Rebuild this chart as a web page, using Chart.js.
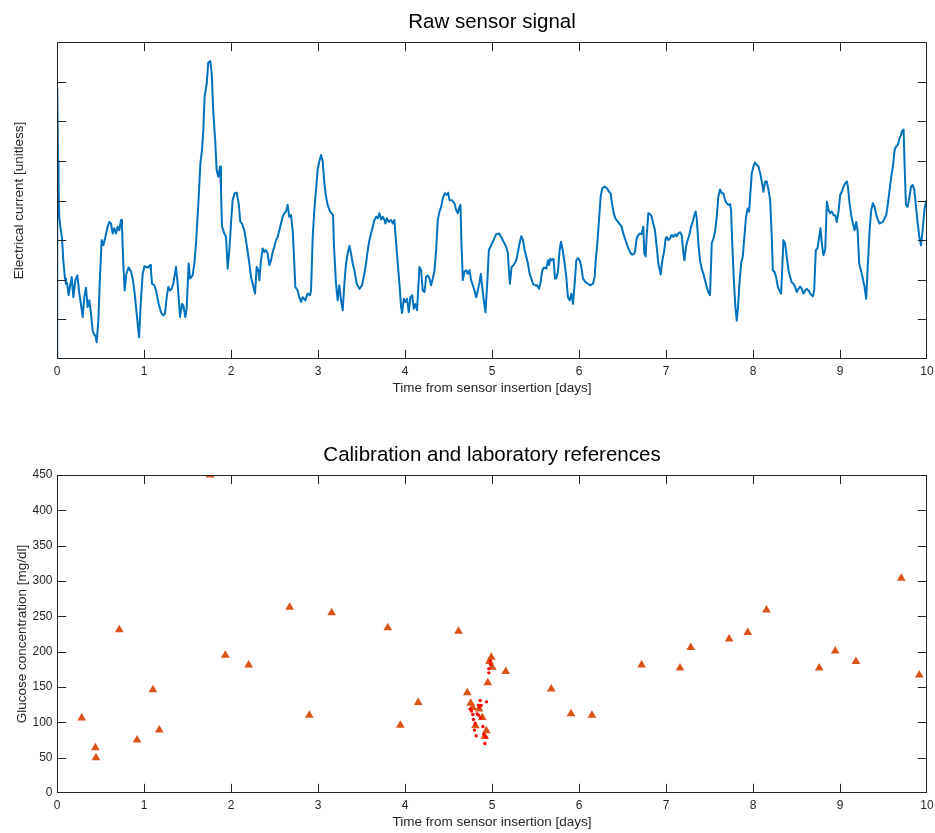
<!DOCTYPE html>
<html>
<head>
<meta charset="utf-8">
<title>Sensor signal and glucose references</title>
<script src="https://cdn.jsdelivr.net/npm/chart.js@4.4.1/dist/chart.umd.min.js"></script>
<style>
  html, body { margin: 0; padding: 0; background: #ffffff; }
  #wrap { position: relative; width: 935px; height: 833px; overflow: hidden; background: #ffffff; }
  canvas { position: absolute; left: 0; }
</style>
</head>
<body>
<div id="wrap">
  <canvas id="signalChart" width="935" height="416" style="top:0px"></canvas>
  <canvas id="refChart" width="935" height="417" style="top:416px"></canvas>
</div>
<script>
// ---- Raw sensor current (unitless) over days since insertion ----
const signalDays = [
  0, 0.003, 0.012, 0.018, 0.026, 0.038, 0.058, 0.072, 0.092, 0.103, 0.115, 0.134, 0.149, 0.169, 0.188, 0.211, 0.234, 0.257, 0.280, 0.295,
  0.314, 0.333, 0.352, 0.372, 0.391, 0.410, 0.425, 0.441, 0.456, 0.475, 0.494, 0.513, 0.533, 0.556, 0.582, 0.602, 0.621, 0.640, 0.659, 0.678,
  0.697, 0.716, 0.736, 0.747, 0.762, 0.778, 0.797, 0.824, 0.851, 0.870, 0.893, 0.916, 0.943, 0.962, 0.985, 1.004, 1.042, 1.069, 1.080, 1.092,
  1.119, 1.138, 1.169, 1.195, 1.222, 1.241, 1.261, 1.280, 1.299, 1.318, 1.337, 1.368, 1.387, 1.414, 1.437, 1.452, 1.475, 1.490, 1.513, 1.529,
  1.559, 1.579, 1.598, 1.625, 1.648, 1.667, 1.682, 1.697, 1.720, 1.739, 1.762, 1.778, 1.797, 1.820, 1.835, 1.854, 1.874, 1.885, 1.897, 1.923,
  1.943, 1.962, 1.981, 2.000, 2.019, 2.042, 2.065, 2.088, 2.107, 2.126, 2.153, 2.172, 2.192, 2.211, 2.230, 2.249, 2.276, 2.295, 2.314, 2.326,
  2.345, 2.364, 2.383, 2.402, 2.421, 2.441, 2.460, 2.479, 2.498, 2.517, 2.536, 2.556, 2.575, 2.594, 2.613, 2.632, 2.651, 2.670, 2.690, 2.709,
  2.728, 2.739, 2.766, 2.785, 2.805, 2.824, 2.854, 2.881, 2.908, 2.920, 2.939, 2.958, 2.977, 2.996, 3.015, 3.035, 3.054, 3.073, 3.092, 3.111,
  3.138, 3.157, 3.173, 3.184, 3.207, 3.226, 3.245, 3.265, 3.284, 3.303, 3.322, 3.341, 3.361, 3.380, 3.399, 3.418, 3.445, 3.476, 3.506, 3.533,
  3.552, 3.572, 3.591, 3.610, 3.629, 3.648, 3.668, 3.687, 3.706, 3.725, 3.744, 3.764, 3.775, 3.791, 3.813, 3.840, 3.859, 3.878, 3.898, 3.917,
  3.936, 3.955, 3.967, 3.986, 4.005, 4.024, 4.043, 4.063, 4.082, 4.101, 4.120, 4.139, 4.155, 4.166, 4.185, 4.204, 4.224, 4.243, 4.262, 4.281,
  4.300, 4.320, 4.339, 4.358, 4.377, 4.396, 4.416, 4.435, 4.458, 4.481, 4.496, 4.511, 4.542, 4.569, 4.588, 4.607, 4.626, 4.638, 4.649, 4.665,
  4.684, 4.703, 4.722, 4.741, 4.760, 4.780, 4.799, 4.818, 4.837, 4.857, 4.872, 4.887, 4.906, 4.925, 4.945, 4.964, 4.991, 5.018, 5.048, 5.079,
  5.106, 5.133, 5.163, 5.183, 5.194, 5.206, 5.225, 5.248, 5.279, 5.298, 5.317, 5.336, 5.356, 5.375, 5.394, 5.413, 5.433, 5.452, 5.471, 5.490,
  5.517, 5.540, 5.555, 5.579, 5.597, 5.624, 5.643, 5.655, 5.670, 5.689, 5.708, 5.724, 5.739, 5.758, 5.777, 5.793, 5.816, 5.835, 5.854, 5.873,
  5.893, 5.912, 5.931, 5.950, 5.969, 5.988, 6.008, 6.027, 6.046, 6.076, 6.103, 6.130, 6.161, 6.180, 6.192, 6.211, 6.230, 6.249, 6.268, 6.295,
  6.322, 6.345, 6.364, 6.379, 6.399, 6.418, 6.449, 6.490, 6.509, 6.528, 6.547, 6.567, 6.586, 6.605, 6.624, 6.643, 6.662, 6.682, 6.701, 6.720,
  6.739, 6.751, 6.766, 6.778, 6.797, 6.816, 6.835, 6.854, 6.873, 6.893, 6.912, 6.939, 6.958, 6.977, 6.996, 7.008, 7.027, 7.046, 7.065, 7.084,
  7.104, 7.123, 7.142, 7.161, 7.180, 7.199, 7.211, 7.230, 7.249, 7.268, 7.288, 7.307, 7.326, 7.341, 7.353, 7.372, 7.391, 7.410, 7.430, 7.449,
  7.468, 7.487, 7.506, 7.526, 7.545, 7.564, 7.583, 7.602, 7.621, 7.641, 7.660, 7.679, 7.698, 7.717, 7.736, 7.748, 7.763, 7.782, 7.798, 7.813,
  7.828, 7.844, 7.863, 7.882, 7.901, 7.920, 7.939, 7.955, 7.967, 7.986, 8.005, 8.024, 8.043, 8.063, 8.082, 8.101, 8.120, 8.139, 8.158, 8.178,
  8.197, 8.216, 8.228, 8.247, 8.266, 8.285, 8.304, 8.323, 8.335, 8.350, 8.369, 8.388, 8.408, 8.427, 8.446, 8.465, 8.484, 8.503, 8.522, 8.542,
  8.561, 8.580, 8.599, 8.619, 8.638, 8.657, 8.688, 8.703, 8.722, 8.741, 8.761, 8.776, 8.791, 8.810, 8.830, 8.849, 8.868, 8.887, 8.906, 8.926,
  8.945, 8.964, 8.983, 9.002, 9.021, 9.041, 9.060, 9.079, 9.091, 9.110, 9.129, 9.148, 9.167, 9.186, 9.202, 9.221, 9.240, 9.259, 9.282, 9.301,
  9.321, 9.340, 9.359, 9.378, 9.397, 9.417, 9.436, 9.455, 9.474, 9.493, 9.512, 9.532, 9.551, 9.570, 9.589, 9.608, 9.628, 9.647, 9.666, 9.685,
  9.700, 9.712, 9.731, 9.743, 9.758, 9.777, 9.797, 9.816, 9.835, 9.854, 9.874, 9.893, 9.912, 9.931, 9.950, 9.970, 9.989, 10.0
];
const signalCurrent = [
  0, 6.84, 5.00, 4.35, 3.59, 3.34, 3.05, 2.49, 2.03, 1.90, 1.92, 1.61, 1.82, 2.07, 1.56, 1.99, 2.11, 1.65, 1.31, 1.06,
  1.56, 1.80, 1.31, 1.48, 1.14, 0.72, 0.62, 0.59, 0.42, 0.97, 2.07, 3.00, 2.87, 3.08, 3.34, 3.46, 3.42, 3.17, 3.30, 3.17,
  3.34, 3.25, 3.51, 3.34, 2.41, 1.73, 2.15, 2.31, 2.20, 2.03, 1.65, 1.14, 0.55, 1.39, 2.15, 2.34, 2.31, 2.37, 2.24, 1.90,
  1.86, 1.73, 1.39, 1.18, 1.10, 1.14, 1.56, 1.82, 1.73, 1.77, 1.90, 2.32, 1.90, 1.06, 1.39, 1.35, 1.06, 1.27, 2.41, 2.03,
  2.11, 2.41, 2.92, 3.93, 4.94, 5.28, 5.79, 6.63, 6.93, 7.48, 7.52, 7.22, 6.21, 5.45, 4.77, 4.60, 4.86, 4.27, 3.34, 3.17,
  3.08, 2.28, 2.75, 3.42, 4.01, 4.18, 4.20, 3.93, 3.46, 3.42, 3.25, 3.00, 2.70, 2.41, 2.07, 1.90, 1.65, 2.32, 2.24, 1.99,
  2.49, 2.79, 2.70, 2.75, 2.66, 2.37, 2.49, 2.70, 2.83, 3.00, 3.08, 3.25, 3.42, 3.59, 3.68, 3.72, 3.89, 3.59, 3.63, 3.25,
  2.41, 1.82, 1.73, 1.56, 1.44, 1.56, 1.48, 1.65, 1.61, 1.73, 3.08, 3.76, 4.27, 4.77, 4.99, 5.15, 4.99, 4.44, 4.10, 3.89,
  3.72, 3.68, 3.63, 2.83, 1.90, 1.48, 1.86, 1.48, 1.23, 1.90, 2.41, 2.66, 2.85, 2.66, 2.41, 2.24, 1.90, 1.77, 1.86, 2.15,
  2.41, 2.75, 3.00, 3.17, 3.34, 3.51, 3.59, 3.55, 3.68, 3.52, 3.59, 3.51, 3.42, 3.55, 3.46, 3.51, 3.42, 3.51, 2.92, 2.41,
  1.90, 1.31, 1.16, 1.52, 1.44, 1.52, 1.18, 1.56, 1.61, 1.27, 1.39, 1.23, 1.90, 2.32, 2.24, 1.73, 1.69, 2.07, 2.11, 2.03,
  1.86, 2.03, 2.24, 2.75, 3.51, 3.72, 3.84, 4.06, 4.18, 4.14, 4.20, 4.01, 4.00, 3.93, 3.76, 3.68, 3.84, 3.89, 2.92, 1.99,
  2.20, 2.24, 2.15, 2.24, 1.99, 1.86, 1.73, 1.56, 1.73, 1.94, 2.15, 1.82, 1.48, 1.18, 1.90, 2.75, 2.87, 3.00, 3.15, 3.17,
  3.08, 2.96, 2.83, 2.66, 2.24, 1.90, 2.32, 2.37, 2.49, 2.70, 2.92, 3.10, 3.00, 2.75, 2.58, 2.41, 2.15, 2.03, 1.90, 1.86,
  1.86, 1.77, 1.90, 2.24, 2.31, 2.28, 2.49, 2.37, 2.53, 2.49, 2.53, 2.03, 2.03, 2.20, 2.75, 2.96, 2.70, 2.41, 2.07, 1.56,
  1.48, 1.65, 1.39, 1.90, 2.49, 2.55, 2.49, 2.32, 2.03, 1.94, 1.90, 1.86, 1.90, 2.07, 2.49, 2.92, 3.51, 4.10, 4.31, 4.35,
  4.31, 4.22, 4.18, 3.93, 3.68, 3.55, 3.46, 3.34, 3.17, 3.04, 2.92, 2.79, 2.70, 2.64, 2.64, 2.70, 3.04, 3.13, 3.17, 3.15,
  3.34, 2.66, 2.59, 3.10, 3.68, 3.66, 3.59, 3.42, 3.25, 2.83, 2.41, 2.13, 2.49, 2.70, 3.04, 3.08, 3.00, 3.04, 3.13, 3.08,
  3.15, 3.10, 3.17, 3.20, 3.13, 2.70, 2.49, 2.83, 3.00, 3.13, 3.34, 3.46, 3.63, 3.72, 3.55, 2.92, 2.49, 2.28, 2.15, 1.99,
  1.82, 1.69, 1.61, 2.92, 3.04, 3.21, 3.59, 4.10, 4.28, 4.18, 4.18, 4.01, 3.93, 3.89, 3.91, 3.76, 2.83, 1.90, 1.31, 0.97,
  1.31, 1.90, 2.41, 2.58, 3.08, 3.59, 3.80, 3.72, 4.10, 4.69, 4.86, 4.96, 4.90, 4.86, 4.69, 4.48, 4.22, 4.48, 4.48, 4.27,
  4.01, 3.08, 2.24, 2.20, 2.07, 1.82, 1.73, 1.65, 2.24, 3.00, 2.92, 2.58, 2.24, 2.07, 1.93, 1.90, 1.82, 1.69, 1.77, 1.83,
  1.77, 1.65, 1.73, 1.77, 1.73, 1.65, 1.58, 1.73, 2.75, 2.79, 3.08, 3.30, 2.92, 2.62, 2.75, 3.97, 3.76, 3.68, 3.72, 3.63,
  3.63, 3.46, 3.72, 4.14, 4.22, 4.35, 4.44, 4.48, 4.35, 3.93, 3.63, 3.42, 3.25, 3.46, 3.25, 2.41, 2.24, 2.07, 1.82, 1.52,
  2.41, 3.25, 3.76, 3.93, 3.84, 3.63, 3.51, 3.42, 3.44, 3.46, 3.55, 3.63, 3.93, 4.27, 4.60, 4.86, 5.28, 5.37, 5.41, 5.58,
  5.64, 5.75, 5.79, 4.86, 3.89, 3.84, 4.06, 4.35, 4.39, 4.27, 3.84, 3.42, 3.08, 2.87, 3.25, 3.76, 3.97, 4.01
];

// ---- Calibration references (triangles), mg/dl ----
const refDays = [
  0.284, 0.441, 0.448, 0.716, 0.920, 1.103, 1.176, 1.759, 1.935, 2.203, 2.674, 2.900, 3.157, 3.802, 3.947, 4.152,
  4.615, 4.716, 4.755, 4.778, 4.851, 4.889, 4.809, 4.935, 4.916, 4.952, 4.992, 4.970, 5.002, 5.158, 5.681, 5.908,
  6.149, 6.720, 7.161, 7.284, 7.725, 7.940, 8.155, 8.761, 8.945, 9.183, 9.704, 9.911
];
const refGlucose = [
  106, 64, 50, 231, 75, 146, 89, 450, 195, 181, 263, 110, 255, 234, 96, 128,
  229, 142, 127, 121, 119, 107, 95, 88, 80, 156, 192, 186, 178, 172, 147, 112,
  110, 181, 177, 206, 218, 227, 259, 177, 201, 186, 304, 167
];

// ---- Laboratory samples (dots), mg/dl ----
const labDays = [
  4.979, 4.983, 4.964, 4.964, 4.864, 4.937, 4.845, 4.876, 4.749, 4.764, 4.780, 4.830,
  4.845, 4.787, 4.799, 4.818, 4.895, 4.906, 4.918, 4.872, 4.857, 4.807, 4.929
];
const labGlucose = [
  187, 182, 176, 170, 131, 129, 124, 124, 119, 116, 111, 112,
  110, 104, 89, 81, 94, 83, 70, 106, 122, 98, 79
];

// ---- Tick values ----
const dayTicks = [0, 1, 2, 3, 4, 5, 6, 7, 8, 9, 10];
const currentTicks = [0, 1, 2, 3, 4, 5, 6, 7, 8];
const glucoseTicks = [0, 50, 100, 150, 200, 250, 300, 350, 400, 450];

const FONT = '"Liberation Sans", Arial, Helvetica, sans-serif';
const AXIS_COLOR = '#262626';
const TICK_LEN = 8.7;

function toPoints(xs, ys) {
  return xs.map((x, i) => ({ x: x, y: ys[i] }));
}

function clamp(v, lo, hi) {
  return Math.min(hi, Math.max(lo, v));
}

// Boxed axes with inward ticks on all four sides, tick labels, axis labels and title.
const boxedAxes = {
  id: 'boxedAxes',
  afterDraw(chart, args, opts) {
    const ctx = chart.ctx;
    const a = chart.chartArea;
    const xs = chart.scales.x;
    const ys = chart.scales.y;
    const L = Math.round(a.left) + 0.5;
    const R = Math.round(a.right) - 0.5;
    const T = Math.round(a.top) + 0.5;
    const B = Math.round(a.bottom) - 0.5;
    ctx.save();
    ctx.strokeStyle = AXIS_COLOR;
    ctx.lineWidth = 1;
    ctx.strokeRect(L, T, R - L, B - T);
    ctx.beginPath();
    opts.xTicks.forEach(v => {
      const px = clamp(Math.round(xs.getPixelForValue(v)) + 0.5, L, R);
      ctx.moveTo(px, B); ctx.lineTo(px, B - TICK_LEN);
      ctx.moveTo(px, T); ctx.lineTo(px, T + TICK_LEN);
    });
    opts.yTicks.forEach(v => {
      const py = clamp(Math.round(ys.getPixelForValue(v)) + 0.5, T, B);
      ctx.moveTo(L, py); ctx.lineTo(L + TICK_LEN, py);
      ctx.moveTo(R, py); ctx.lineTo(R - TICK_LEN, py);
    });
    ctx.stroke();

    ctx.fillStyle = AXIS_COLOR;
    ctx.font = '12px ' + FONT;
    ctx.textAlign = 'center';
    ctx.textBaseline = 'middle';
    opts.xTicks.forEach(v => {
      ctx.fillText(String(v), xs.getPixelForValue(v), a.bottom + 12.5);
    });
    if (opts.yTickLabels) {
      ctx.textAlign = 'right';
      opts.yTicks.forEach(v => {
        ctx.fillText(String(v), a.left - 4.5, ys.getPixelForValue(v));
      });
    }

    ctx.font = '13.5px ' + FONT;
    ctx.textAlign = 'center';
    ctx.fillText(opts.xLabel, (a.left + a.right) / 2, a.bottom + 29.5);
    ctx.save();
    ctx.translate(opts.yLabelX, (a.top + a.bottom) / 2);
    ctx.rotate(-Math.PI / 2);
    ctx.fillText(opts.yLabel, 0, 0);
    ctx.restore();

    ctx.fillStyle = '#000000';
    ctx.font = '20.5px ' + FONT;
    ctx.textBaseline = 'alphabetic';
    ctx.fillText(opts.title, (a.left + a.right) / 2, a.top - 14.2);
    ctx.restore();
  }
};

const baseOptions = {
  responsive: false,
  animation: false,
  events: [],
  plugins: { legend: { display: false }, tooltip: { enabled: false } }
};

new Chart(document.getElementById('signalChart'), {
  type: 'line',
  data: {
    datasets: [{
      data: toPoints(signalDays, signalCurrent),
      borderColor: '#0072BD',
      borderWidth: 2,
      borderJoinStyle: 'round',
      pointRadius: 0,
      tension: 0,
      fill: false
    }]
  },
  options: {
    ...baseOptions,
    layout: { padding: { left: 57, right: 8, top: 42, bottom: 57 } },
    scales: {
      x: { type: 'linear', display: false, min: 0, max: 10 },
      y: { type: 'linear', display: false, min: 0, max: 8 }
    },
    plugins: {
      ...baseOptions.plugins,
      boxedAxes: {
        title: 'Raw sensor signal',
        xLabel: 'Time from sensor insertion [days]',
        yLabel: 'Electrical current [unitless]',
        xTicks: dayTicks,
        yTicks: currentTicks,
        yTickLabels: false,
        yLabelX: 19.5
      }
    }
  },
  plugins: [boxedAxes]
});

new Chart(document.getElementById('refChart'), {
  type: 'scatter',
  data: {
    datasets: [
      {
        label: 'Laboratory',
        data: toPoints(labDays, labGlucose),
        pointStyle: 'circle',
        pointRadius: 1.7,
        backgroundColor: '#FF0000',
        borderWidth: 0,
        clip: 0
      },
      {
        label: 'Calibration',
        data: toPoints(refDays, refGlucose),
        pointStyle: 'triangle',
        pointRadius: 5,
        backgroundColor: '#D95319',
        borderColor: '#D95319',
        borderWidth: 0,
        clip: 0
      }
    ]
  },
  options: {
    ...baseOptions,
    layout: { padding: { left: 57, right: 8, top: 59, bottom: 40 } },
    scales: {
      x: { type: 'linear', display: false, min: 0, max: 10 },
      y: { type: 'linear', display: false, min: 0, max: 450 }
    },
    plugins: {
      ...baseOptions.plugins,
      boxedAxes: {
        title: 'Calibration and laboratory references',
        xLabel: 'Time from sensor insertion [days]',
        yLabel: 'Glucose concentration [mg/dl]',
        xTicks: dayTicks,
        yTicks: glucoseTicks,
        yTickLabels: true,
        yLabelX: 22.5
      }
    }
  },
  plugins: [boxedAxes]
});
</script>
</body>
</html>
